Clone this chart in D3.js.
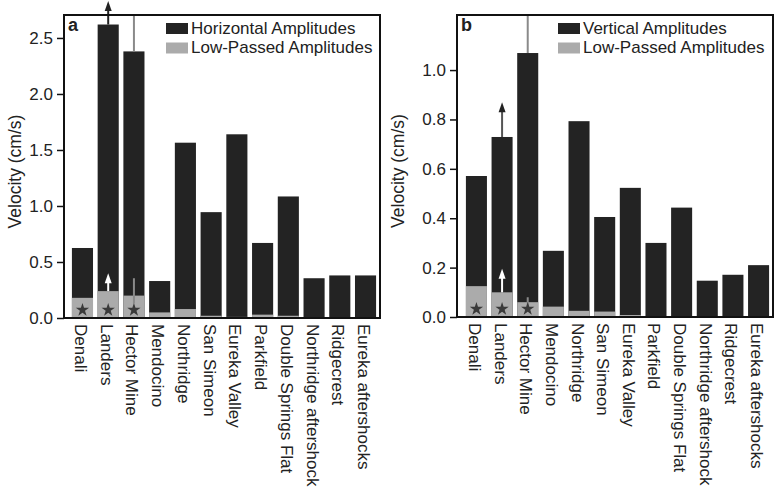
<!DOCTYPE html>
<html>
<head>
<meta charset="utf-8">
<script src="https://cdn.jsdelivr.net/npm/d3@7"></script>
<style>
  body { margin: 0; background: #fff; }
  svg { display: block; font-family: "Liberation Sans", Arial, Helvetica, sans-serif; }
</style>
</head>
<body>
<svg id="chart" width="775" height="490"></svg>
<script>
// earthquakes, same order in both panels
var quakes = ["Denali", "Landers", "Hector Mine", "Mendocino", "Northridge", "San Simeon",
  "Eureka Valley", "Parkfield", "Double Springs Flat", "Northridge aftershock",
  "Ridgecrest", "Eureka aftershocks"];

// panel a: horizontal amplitudes (cm/s)
var horizAmp = [0.625, 2.62, 2.38, 0.33, 1.565, 0.945, 1.64, 0.67, 1.085, 0.355, 0.38, 0.38];
var horizLow = [0.18, 0.24, 0.2, 0.05, 0.08, 0.02, 0.01, 0.03, 0.02, 0, 0, 0];
var horizTicks = [0, 0.5, 1.0, 1.5, 2.0, 2.5];

// panel b: vertical amplitudes (cm/s)
var vertAmp = [0.571, 0.729, 1.069, 0.268, 0.793, 0.405, 0.523, 0.30, 0.443, 0.147, 0.171, 0.21];
var vertLow = [0.125, 0.10, 0.06, 0.042, 0.025, 0.022, 0.008, 0, 0, 0, 0, 0];
var vertTicks = [0, 0.2, 0.4, 0.6, 0.8, 1.0];

// stars mark the first three events
var starred = ["Denali", "Landers", "Hector Mine"];

// lower-bound arrows / error bars  [quake, from, to, kind]
var horizMarks = [
  ["Landers", 2.62, 2.83, "arrowBlack"],
  ["Hector Mine", 2.38, 2.8, "lineGray"],
  ["Landers", 0.24, 0.40, "arrowWhite"],
  ["Hector Mine", 0.13, 0.355, "lineGray"]
];
var vertMarks = [
  ["Landers", 0.729, 0.87, "arrowBlack"],
  ["Hector Mine", 1.069, 1.3, "lineGray"],
  ["Landers", 0.10, 0.195, "arrowWhite"],
  ["Hector Mine", 0.045, 0.08, "lineGray"]
];

var svg = d3.select("#chart");
var dark = "#232323", light = "#ababab";

function panel(opt) {
  var g = svg.append("g");
  var x = d3.scaleBand().domain(quakes).range(opt.xr).paddingInner(0.18).paddingOuter(0.09);
  var y = d3.scaleLinear().domain([0, opt.ymax]).range([opt.bottom, opt.top]);
  var yc = function(v) { return y(Math.min(v, opt.ymax)); };

  // main bars
  g.selectAll(".amp").data(quakes).enter().append("rect")
    .attr("x", d => x(d))
    .attr("width", x.bandwidth())
    .attr("y", (d, i) => y(opt.amp[i]))
    .attr("height", (d, i) => y(0) - y(opt.amp[i]))
    .attr("fill", dark);

  // low-passed bars
  g.selectAll(".low").data(quakes).enter().append("rect")
    .attr("x", d => x(d))
    .attr("width", x.bandwidth())
    .attr("y", (d, i) => y(opt.low[i]))
    .attr("height", (d, i) => y(0) - y(opt.low[i]))
    .attr("fill", light);

  // arrows and error lines
  opt.marks.forEach(function(m) {
    var cx = x(m[0]) + x.bandwidth() / 2;
    var col = m[3] == "arrowWhite" ? "#fff" : (m[3] == "arrowBlack" ? "#222" : "#8a8a8a");
    var y1 = y(m[1]);
    var y2 = m[3] == "lineGray" ? yc(m[2]) : y(m[2]);
    var isArrow = m[3] != "lineGray";
    g.append("line")
      .attr("x1", cx).attr("x2", cx)
      .attr("y1", y1).attr("y2", isArrow ? y2 + 7 : y2)
      .attr("stroke", m[3] == "arrowBlack" && opt.name == "b" ? "#555" : col)
      .attr("stroke-width", 2);
    if (isArrow) {
      g.append("path")
        .attr("d", "M" + (cx - 3.5) + "," + (y2 + 10) + "L" + cx + "," + y2 + "L" + (cx + 3.5) + "," + (y2 + 10) + "Z")
        .attr("fill", col);
    }
  });

  // stars
  var star = d3.symbol().type(d3.symbolStar).size(55);
  g.selectAll(".star").data(starred).enter().append("path")
    .attr("d", star)
    .attr("transform", d => "translate(" + (x(d) + x.bandwidth() / 2) + "," + (opt.bottom - 8) + ")")
    .attr("fill", "#3a3a3a");

  // frame
  g.append("rect")
    .attr("x", opt.frame[0]).attr("y", opt.top)
    .attr("width", opt.frame[1] - opt.frame[0]).attr("height", opt.bottom - opt.top)
    .attr("fill", "none").attr("stroke", "#111").attr("stroke-width", 2);

  // y axis
  var ax = g.append("g")
    .attr("transform", "translate(" + opt.frame[0] + ",0)")
    .call(d3.axisLeft(y).tickValues(opt.ticks).tickFormat(d3.format(".1f")).tickSize(7).tickPadding(4));
  ax.select(".domain").remove();
  ax.selectAll(".tick line").attr("stroke", "#111").attr("stroke-width", 1.5);
  ax.selectAll(".tick text").attr("font-size", 17).attr("fill", "#222").attr("font-family", null);

  g.append("text")
    .attr("transform", "translate(" + opt.ylabX + "," + ((opt.top + opt.bottom) / 2 + 5) + ") rotate(-90)")
    .attr("text-anchor", "middle")
    .attr("font-size", 17.5)
    .attr("fill", "#222")
    .text("Velocity (cm/s)");

  // category labels
  g.selectAll(".xl").data(quakes).enter().append("text")
    .attr("transform", d => "translate(" + (x(d) + x.bandwidth() / 2 - 2) + "," + (opt.bottom + 6) + ") rotate(90)")
    .attr("dominant-baseline", "central")
    .attr("font-size", 17)
    .attr("fill", "#222")
    .text(d => d);

  // panel letter
  g.append("text")
    .attr("x", opt.frame[0] + 4).attr("y", opt.top + 16)
    .attr("font-size", 18).attr("font-weight", "bold").attr("fill", "#222")
    .text(opt.name);

  // legend
  var lg = g.append("g").attr("transform", "translate(" + opt.legX + "," + (opt.top + 8) + ")");
  [[opt.legend, dark], ["Low-Passed Amplitudes", light]].forEach(function(r, i) {
    lg.append("rect").attr("x", 0).attr("y", i * 19.5).attr("width", 22).attr("height", 11).attr("fill", r[1]);
    lg.append("text").attr("x", 25).attr("y", i * 19.5 + 10.5)
      .attr("font-size", 17).attr("fill", "#222").text(r[0]);
  });
}

panel({ name: "a", amp: horizAmp, low: horizLow, ticks: horizTicks, marks: horizMarks,
  ymax: 2.705, top: 15, bottom: 318, frame: [64, 380], xr: [69.6, 378.4],
  ylabX: 21, legX: 166, legend: "Horizontal Amplitudes" });

panel({ name: "b", amp: vertAmp, low: vertLow, ticks: vertTicks, marks: vertMarks,
  ymax: 1.223, top: 15, bottom: 317, frame: [457, 773], xr: [463.6, 771.4],
  ylabX: 404, legX: 558, legend: "Vertical Amplitudes" });
</script>
</body>
</html>
